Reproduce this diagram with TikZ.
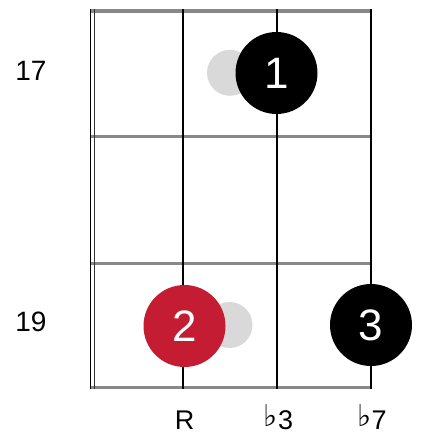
\documentclass[tikz,border=0pt]{standalone}
\usepackage{fontspec}
\setmainfont{Liberation Sans}
\newfontfamily\symfont{DejaVu Sans}
\definecolor{fretgray}{HTML}{888888}
\definecolor{ghost}{HTML}{D9D9D9}
\definecolor{dotred}{HTML}{C41C33}
\newcommand{\flatsym}{\raisebox{3pt}{\symfont\fontsize{30}{30}\selectfont ♭}}
\begin{document}
\begin{tikzpicture}[x=1pt,y=-1pt,
  fret/.style={draw=fretgray,line width=3.5pt},
  stringline/.style={draw=black,line width=2pt},
  ghostdot/.style={circle,fill=ghost,minimum size=46pt,inner sep=0pt},
  fingerdot/.style={circle,fill=black,minimum size=82pt,inner sep=0pt,text=white,font=\fontsize{44}{44}\selectfont},
  fretlabel/.style={font=\fontsize{28}{28}\selectfont,text=black},
  notelabel/.style={font=\fontsize{27}{27}\selectfont,text=black,inner sep=0pt,anchor=base}]
\useasboundingbox (0,0) rectangle (421,436);
% frets
\foreach \y/\n in {10.8/f0,136.5/f1,263.3/f2,387.5/f3}{
  \coordinate (\n l) at (90,\y);
  \coordinate (\n r) at (372,\y);
  \draw[fret] (\n l) -- (\n r);
}
% nut / left double line
\coordinate (nt1) at (90.5,9);
\coordinate (nb1) at (90.5,389.3);
\coordinate (nt2) at (94.3,9);
\coordinate (nb2) at (94.3,389.3);
\draw[black,line width=1.2pt] (nt1) -- (nb1);
\draw[black!80,line width=1.6pt] (nt2) -- (nb2);
% strings
\foreach \x/\n in {183/s1,277/s2,371/s3}{
  \coordinate (\n t) at (\x,9);
  \coordinate (\n b) at (\x,389.3);
  \draw[stringline] (\n t) -- (\n b);
}
% ghost dots
\node[ghostdot] (g1) at (230,72.8) {};
\node[ghostdot] (g2) at (229.5,325) {};
% finger dots
\node[fingerdot] (d1) at (276.5,73) {1};
\node[fingerdot,fill=dotred] (d2) at (184.5,326) {2};
\node[fingerdot] (d3) at (371,325) {3};
% fret numbers
\node[fretlabel] (n17) at (31,70.5) {17};
\node[fretlabel] (n19) at (31,321.5) {19};
% note labels
\node[notelabel] (lR) at (184.5,429.5) {R};
\node[notelabel] (l3) at (278.5,429.5) {\flatsym3};
\node[notelabel] (l7) at (372,429.5) {\flatsym7};
\end{tikzpicture}
\end{document}
